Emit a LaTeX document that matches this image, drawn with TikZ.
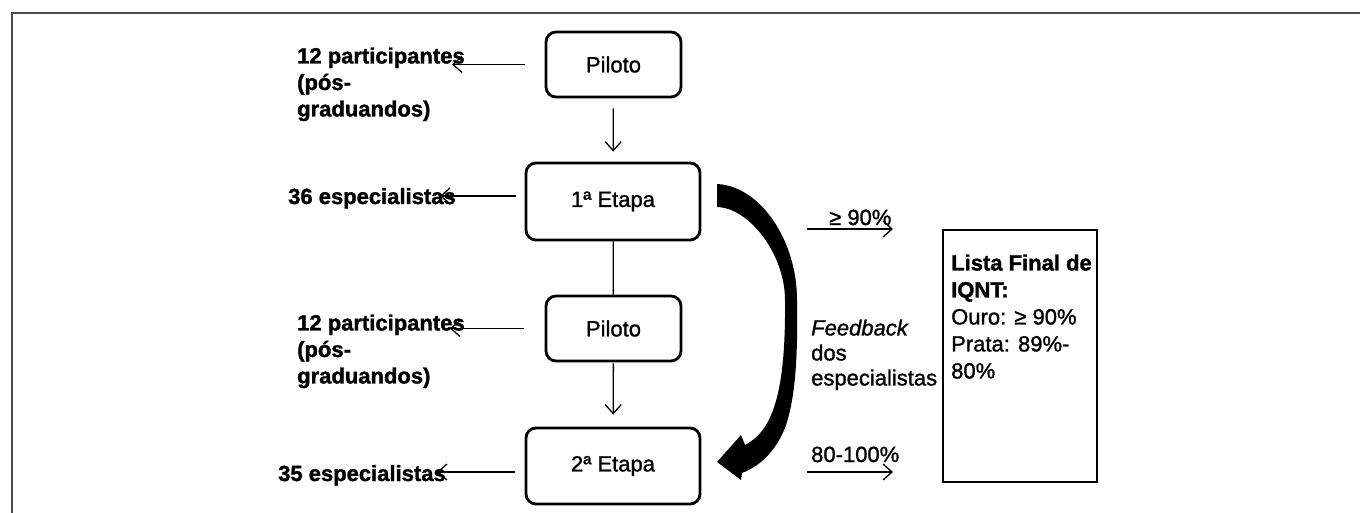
\documentclass[tikz,border=0pt]{standalone}
\usepackage{fontspec}
\setmainfont{Liberation Sans}[FakeBold=1.2, BoldFeatures={FakeBold=1.5}, ItalicFeatures={FakeBold=1.2}]
\usetikzlibrary{arrows.meta}
\begin{document}
\begin{tikzpicture}[x=1pt,y=-1pt,
  every node/.style={inner sep=0pt, font=\fontsize{22}{26.5}\selectfont},
  bl/.style={font=\fontsize{22}{26.5}\selectfont\bfseries},
  stage/.style={draw, line width=2.8pt, rounded corners=10pt},
  lbl/.style={align=left, anchor=north west},
  arr/.style={line width=1.3pt, -{Straight Barb[length=9pt,width=16pt,line width=1.3pt]}},
  ln/.style={line width=1.3pt}]
\useasboundingbox (0,0) rectangle (1360,513);
\draw[gray!60!black, line width=1.8pt] (12,513) -- (12,13) -- (1360,13);

% stages
\node[stage, minimum width=135, minimum height=65] (p1) at (613.5,64.5) {Piloto};
\node[stage, minimum width=174, minimum height=77] (e1) at (613,201.5) {1ª Etapa};
\node[stage, minimum width=135, minimum height=65] (p2) at (613.5,328.5) {Piloto};
\node[stage, minimum width=174, minimum height=76] (e2) at (613,466) {2ª Etapa};

% final list
\node[draw, line width=2.8pt, minimum width=154, minimum height=252] (fin) at (1020,356) {};
\node[lbl, font=\fontsize{22}{27}\selectfont] (fintxt) at (951,254.3) {\textbf{Lista Final de}\\\textbf{IQNT:}\\Ouro: ≥ 90\%\\Prata: 89\%-\\80\%};

% left labels
\node[lbl, bl] (l1) at (297,47.3) {12 participantes\\(pós-\\graduandos)};
\node[anchor=base west, bl] (s1) at (288,204) {36 especialistas};
\node[lbl, bl] (l2) at (297,314.3) {12 participantes\\(pós-\\graduandos)};
\node[anchor=base west, bl] (s2) at (278,481) {35 especialistas};

% right labels
\node[anchor=base west] (g90) at (829,225) {≥ 90\%};
\node[anchor=base west] (r80) at (811,462) {80-100\%};
\node[lbl, font=\fontsize{22}{25}\selectfont] (fb) at (811,319.3) {\textit{Feedback}\\dos\\especialistas};

% free arrow ends
\coordinate (t1) at (452,64.5);
\coordinate (t2) at (440,196);
\coordinate (t3) at (450,328.5);
\coordinate (t4) at (437,472);
\coordinate (a1s) at (807,229);
\coordinate (a1e) at (893,229);
\coordinate (a2s) at (807,472);
\coordinate (a2e) at (893,472);

% connectors
\draw[arr, shorten <=20pt] (p1.west) -- (t1);
\draw[arr] ([xshift=-9pt,yshift=5.5pt]e1.west) -- (t2);
\draw[arr, shorten <=21pt] (p2.west) -- (t3);
\draw[arr] ([xshift=-10pt,yshift=-6pt]e2.west) -- (t4);
\draw[arr, shorten <=10pt, shorten >=10pt] (p1) -- (e1);
\draw[ln] (e1) -- (p2);
\draw[arr, shorten <=1pt, shorten >=12pt] (p2) -- (e2);
\draw[arr] (a1s) -- (a1e);
\draw[arr] (a2s) -- (a2e);

% feedback curved arrow
\fill (717,184) .. controls (760,186) and (797,240) .. (797,300)
  .. controls (798,360) and (795,400) .. (785,428)
  .. controls (775,452) and (760,466) .. (742,473)
  -- (741,480) -- (717,462) -- (741,435) -- (745,445)
  .. controls (770,432) and (786,400) .. (785,300)
  .. controls (785,255) and (750,208) .. (717,207) -- cycle;
\end{tikzpicture}
\end{document}
